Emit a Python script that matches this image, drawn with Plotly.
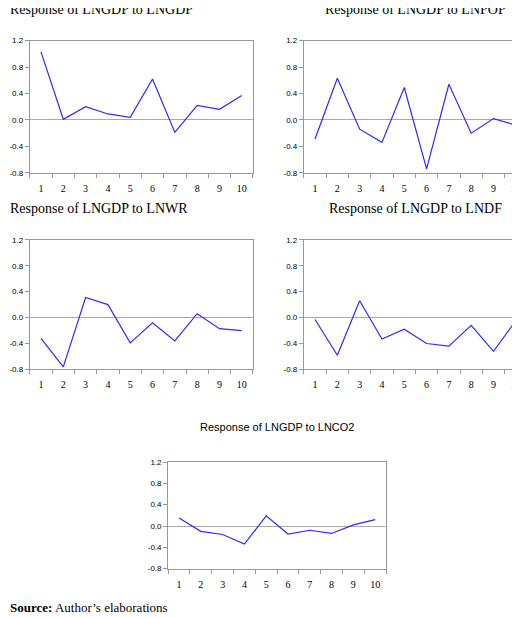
import plotly.graph_objects as go

periods = list(range(1, 11))
tick_labels = [str(p) for p in periods]
gdp = [1.03, 0.01, 0.20, 0.09, 0.04, 0.62, -0.19, 0.22, 0.16, 0.37]
pop = [-0.29, 0.63, -0.14, -0.34, 0.49, -0.74, 0.54, -0.20, 0.02, -0.08]
wr = [-0.32, -0.76, 0.31, 0.20, -0.39, -0.08, -0.36, 0.06, -0.17, -0.20]
df = [-0.03, -0.58, 0.26, -0.33, -0.18, -0.40, -0.44, -0.12, -0.52, -0.05]
co2 = [0.15, -0.10, -0.16, -0.34, 0.19, -0.15, -0.08, -0.14, 0.02, 0.12]

panels = [
    ("Response of LNGDP to LNGDP", gdp, [0.042, 0.471], [0.736, 0.953]),
    ("Response of LNGDP to LNPOP", pop, [0.569, 0.998], [0.736, 0.953]),
    ("Response of LNGDP to LNWR", wr, [0.042, 0.471], [0.413, 0.626]),
    ("Response of LNGDP to LNDF", df, [0.569, 0.998], [0.413, 0.626]),
    ("Response of LNGDP to LNCO2", co2, [0.308, 0.727], [0.086, 0.261]),
]

fig = go.Figure()
serif = "Liberation Serif"
for i, (title, vals, xd, yd) in enumerate(panels):
    n = "" if i == 0 else str(i + 1)
    fig.add_trace(go.Scatter(x=periods, y=vals, mode="lines",
                             line=dict(color="#2b2bff", width=1.2),
                             xaxis="x" + n, yaxis="y" + n, showlegend=False))
    fig.layout["xaxis" + n] = dict(domain=xd, anchor="y" + n, range=[0.5, 10.5],
        tickvals=periods, ticktext=tick_labels, ticks="", showgrid=False, zeroline=False,
        showline=True, linecolor="#999", mirror=True, ticklabelstandoff=6,
        minor=dict(ticks="outside", tick0=0.5, dtick=1, ticklen=4, tickcolor="#999", showgrid=False),
        tickfont=dict(family=serif, size=10, color="black"), fixedrange=True)
    fig.layout["yaxis" + n] = dict(domain=yd, anchor="x" + n, range=[-0.8, 1.2],
        tickvals=[-0.8, -0.4, 0, 0.4, 0.8, 1.2],
        ticktext=["-0.8", "-0.4", "0.0", "0.4", "0.8", "1.2"],
        ticks="outside", ticklen=4, tickcolor="#999", showgrid=False,
        zeroline=True, zerolinecolor="#aaa", zerolinewidth=1,
        showline=True, linecolor="#999", mirror=True,
        tickfont=dict(family="Liberation Sans", size=8, color="black"))
    small = i == 4
    fig.add_annotation(text=title, xref="paper", yref="paper",
        x=(xd[0] + xd[1]) / 2 if i % 2 == 1 or small else 0.0,
        xanchor="center" if i % 2 == 1 or small else "left",
        y=yd[1] + (0.035 if not small else 0.045), yanchor="bottom", showarrow=False,
        font=dict(family="Liberation Sans" if small else serif, size=11 if small else 14, color="black"))

fig.add_annotation(text="<b>Source:</b> Author’s elaborations", xref="paper", yref="paper",
    x=0.0, y=1 - 604 / 618, xanchor="left", yanchor="middle", showarrow=False,
    font=dict(family=serif, size=13, color="black"))

fig.update_layout(width=520, height=618, margin=dict(l=0, r=0, t=0, b=0),
    plot_bgcolor="white", paper_bgcolor="white")
fig.write_html("out.html")
